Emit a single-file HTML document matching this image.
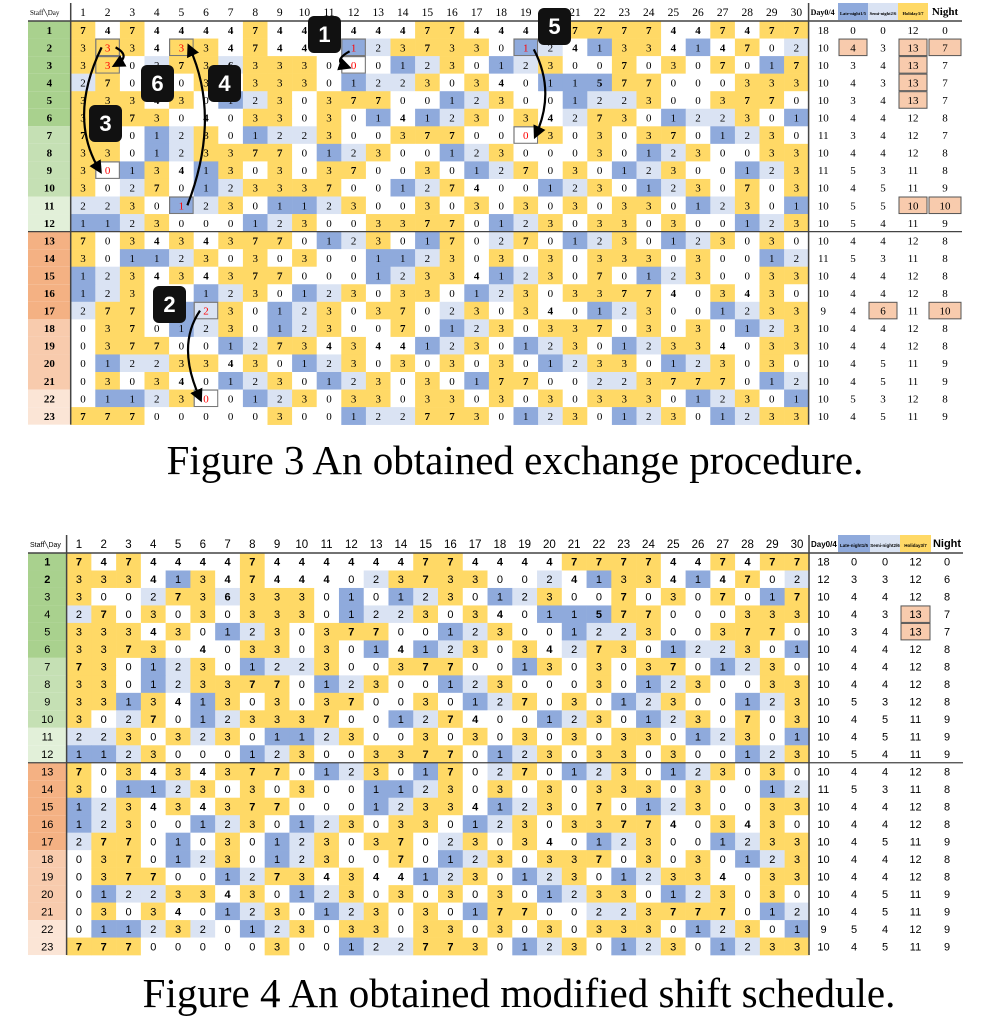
<!DOCTYPE html>
<html><head><meta charset="utf-8"><style>
html,body{margin:0;padding:0;background:#fff;width:1002px;height:1036px;overflow:hidden}
.cap{position:absolute;width:1002px;text-align:center;font-family:"Liberation Serif",serif;font-size:41px;color:#000;white-space:nowrap}
</style></head><body>
<svg id="svg" width="1002" height="1036" style="position:absolute;left:0;top:0"></svg>
<div class="cap" style="top:436px;left:14px">Figure 3 An obtained exchange procedure.</div>
<div class="cap" style="top:969px;left:18px">Figure 4 An obtained modified shift schedule.</div>
<script>
const days = Array.from({length:30},(_,i)=>i+1);
const staff = Array.from({length:23},(_,i)=>i+1);
const schedule4 = [
[7,4,7,4,4,4,4,7,4,4,4,4,4,4,7,7,4,4,4,4,7,7,7,7,4,4,7,4,7,7],
[3,3,3,4,1,3,4,7,4,4,4,0,2,3,7,3,3,0,0,2,4,1,3,3,4,1,4,7,0,2],
[3,0,0,2,7,3,6,3,3,3,0,1,0,1,2,3,0,1,2,3,0,0,7,0,3,0,7,0,1,7],
[2,7,0,3,0,3,0,3,3,3,0,1,2,2,3,0,3,4,0,1,1,5,7,7,0,0,0,3,3,3],
[3,3,3,4,3,0,1,2,3,0,3,7,7,0,0,1,2,3,0,0,1,2,2,3,0,0,3,7,7,0],
[3,3,7,3,0,4,0,3,3,0,3,0,1,4,1,2,3,0,3,4,2,7,3,0,1,2,2,3,0,1],
[7,3,0,1,2,3,0,1,2,2,3,0,0,3,7,7,0,0,1,3,0,3,0,3,7,0,1,2,3,0],
[3,3,0,1,2,3,3,7,7,0,1,2,3,0,0,1,2,3,0,0,0,3,0,1,2,3,0,0,3,3],
[3,3,1,3,4,1,3,0,3,0,3,7,0,0,3,0,1,2,7,0,3,0,1,2,3,0,0,1,2,3],
[3,0,2,7,0,1,2,3,3,3,7,0,0,1,2,7,4,0,0,1,2,3,0,1,2,3,0,7,0,3],
[2,2,3,0,3,2,3,0,1,1,2,3,0,0,3,0,3,0,3,0,3,0,3,3,0,1,2,3,0,1],
[1,1,2,3,0,0,0,1,2,3,0,0,3,3,7,7,0,1,2,3,0,3,3,0,3,0,0,1,2,3],
[7,0,3,4,3,4,3,7,7,0,1,2,3,0,1,7,0,2,7,0,1,2,3,0,1,2,3,0,3,0],
[3,0,1,1,2,3,0,3,0,3,0,0,1,1,2,3,0,3,0,3,0,3,3,3,0,3,0,0,1,2],
[1,2,3,4,3,4,3,7,7,0,0,0,1,2,3,3,4,1,2,3,0,7,0,1,2,3,0,0,3,3],
[1,2,3,0,0,1,2,3,0,1,2,3,0,3,3,0,1,2,3,0,3,3,7,7,4,0,3,4,3,0],
[2,7,7,0,1,0,3,0,1,2,3,0,3,7,0,2,3,0,3,4,0,1,2,3,0,0,1,2,3,3],
[0,3,7,0,1,2,3,0,1,2,3,0,0,7,0,1,2,3,0,3,3,7,0,3,0,3,0,1,2,3],
[0,3,7,7,0,0,1,2,7,3,4,3,4,4,1,2,3,0,1,2,3,0,1,2,3,3,4,0,3,3],
[0,1,2,2,3,3,4,3,0,1,2,3,0,3,0,3,0,3,0,1,2,3,3,0,1,2,3,0,3,0],
[0,3,0,3,4,0,1,2,3,0,1,2,3,0,3,0,1,7,7,0,0,2,2,3,7,7,7,0,1,2],
[0,1,1,2,3,2,0,1,2,3,0,3,3,0,3,3,0,3,0,3,0,3,3,3,0,1,2,3,0,1],
[7,7,7,0,0,0,0,0,3,0,0,1,2,2,7,7,3,0,1,2,3,0,1,2,3,0,1,2,3,3]];
// [staff, day, value] cells of Figure 3 that differ (exchanged, shown red)
const fig3Changes = [[2,2,3],[3,2,3],[9,2,0],[2,5,3],[11,5,1],[2,12,1],[3,12,0],[2,19,1],[7,19,0],[17,6,2],[22,6,0]];
const summaryHeaders = ["Day0/4","Late-night1/5","Semi-night2/6","Holiday3/7","Night"];
const summary3 = [[18,0,0,12,0],[10,4,3,13,7],[10,3,4,13,7],[10,4,3,13,7],[10,3,4,13,7],[10,4,4,12,8],[11,3,4,12,7],[10,4,4,12,8],[11,5,3,11,8],[10,4,5,11,9],[10,5,5,10,10],[10,5,4,11,9],[10,4,4,12,8],[11,5,3,11,8],[10,4,4,12,8],[10,4,4,12,8],[9,4,6,11,10],[10,4,4,12,8],[10,4,4,12,8],[10,4,5,11,9],[10,4,5,11,9],[10,5,3,12,8],[10,4,5,11,9]];
const summary4 = [[18,0,0,12,0],[12,3,3,12,6],[10,4,4,12,8],[10,4,3,13,7],[10,3,4,13,7],[10,4,4,12,8],[10,4,4,12,8],[10,4,4,12,8],[10,5,3,12,8],[10,4,5,11,9],[10,4,5,11,9],[10,5,4,11,9],[10,4,4,12,8],[11,5,3,11,8],[10,4,4,12,8],[10,4,4,12,8],[10,4,5,11,9],[10,4,4,12,8],[10,4,4,12,8],[10,4,5,11,9],[10,4,5,11,9],[9,5,4,12,9],[10,4,5,11,9]];
const hl3 = [[2,1],[2,3],[2,4],[3,3],[4,3],[5,3],[11,3],[11,4],[17,2],[17,4]];
const hl4 = [[4,3],[5,3]];

const NS="http://www.w3.org/2000/svg";
const svg=document.getElementById('svg');
function el(tag,attrs,parent){const e=document.createElementNS(NS,tag);for(const k in attrs)e.setAttribute(k,attrs[k]);(parent||svg).appendChild(e);return e;}
function cellColor(v){if(v===3||v===7)return"#ffd966";if(v===1||v===5)return"#8faadc";if(v===2||v===6)return"#dae3f3";return"#ffffff";}
function staffColor(r){if(r<=6)return"#a9d18e";if(r<=10)return"#c5e0b4";if(r<=12)return"#e2f0d9";if(r<=17)return"#f4b183";if(r<=21)return"#f8cbad";return"#fbe5d6";}

function drawTable(c){
  const g=el('g',{});
  
  
  const xDay=d=>c.gx+(d-1)*c.cw;
  const yRow=r=>c.hb+(r-1)*c.rh;
  const F=c.font;
  const t0=el('text',{x:c.x0+2,y:(c.ht+c.hb)/2+3,'font-size':7,'font-family':F},g);t0.textContent="Staff\u2572Day";
  
  days.forEach(d=>{const t=el('text',{x:xDay(d)+c.cw/2,y:(c.ht+c.hb)/2+4,'font-size':11.5,'font-family':F,'text-anchor':'middle'},g);t.textContent=d;
    });
  staff.forEach(r=>{
    const y=yRow(r);
    const s=el('rect',{x:c.x0,y:y,width:c.gx-c.x0,height:c.rh,fill:staffColor(r)},g);
    
    const st=el('text',{x:(c.x0+c.gx)/2,y:y+c.rh/2+4,'font-size':11,'font-family':F,'text-anchor':'middle','font-weight':(r<=2||c.serif)?'bold':'normal'},g);st.textContent=r;
    
    days.forEach(d=>{
      let v=schedule4[r-1][d-1];let red=false;
      if(c.changes){const ch=c.changes.find(a=>a[0]===r&&a[1]===d);if(ch){v=ch[2];red=true;}}
      const rc=el('rect',{x:xDay(d),y:y,width:c.cw+0.3,height:c.rh+0.3,fill:cellColor(v)},g);
      
      if(red){const b=el('rect',{x:xDay(d)+0.5,y:y+0.5,width:c.cw-1,height:c.rh-1,fill:'none',stroke:'#777','stroke-width':1.2},g);
        }
      const tx=el('text',{x:xDay(d)+c.cw/2,y:y+c.rh/2+4,'font-size':11,'font-family':F,'text-anchor':'middle',fill:red?'#ff0000':'#000','font-weight':(v>=4)?'bold':'normal'},g);tx.textContent=v;
      
    });
    c.sum[r-1].forEach((v,i)=>{
      const hl=c.hl.some(a=>a[0]===r&&a[1]===i);
      if(hl){const b=el('rect',{x:c.sx[i]+1,y:y+0.5,width:c.sx[i+1]-c.sx[i]-2,height:c.rh-1,fill:'#f8cbad',stroke:'#555','stroke-width':1},g);
        }
      const t=el('text',{x:(c.sx[i]+c.sx[i+1])/2,y:y+c.rh/2+4,'font-size':11,'font-family':F,'text-anchor':'middle'},g);t.textContent=v;
      
    });
  });
  const hcol=["#fff","#8faadc","#dae3f3","#ffd966","#fff"];
  summaryHeaders.forEach((h,i)=>{
    const r=el('rect',{x:c.sx[i],y:c.ht,width:c.sx[i+1]-c.sx[i],height:c.hb-c.ht-1,fill:hcol[i]},g);
    
    const fs=i===0?8:(i===4?11:4.5);
    const t=el('text',{x:i===0?c.sx[0]+2:(c.sx[i]+c.sx[i+1])/2,y:(c.ht+c.hb)/2+3,'font-size':fs,'font-family':F,'font-weight':'bold','text-anchor':i===0?'start':'middle'},g);t.textContent=h;
    
  });
  const yEnd=yRow(24);
  el('line',{x1:c.x0,x2:c.sx[5],y1:c.hb,y2:c.hb,stroke:'#444','stroke-width':1.5},g);
  el('line',{x1:c.x0,x2:c.sx[5],y1:yRow(13),y2:yRow(13),stroke:'#444','stroke-width':1.2},g);
  el('line',{x1:c.gx,x2:c.gx,y1:c.ht,y2:yEnd,stroke:'#444','stroke-width':1.5},g);
  el('line',{x1:c.sx[0],x2:c.sx[0],y1:c.ht,y2:yEnd,stroke:'#444','stroke-width':1.5},g);
  return {xDay,yRow};
}

const t3=drawTable({name:'figure-3-table',x0:28,gx:70.7,cw:24.6,ht:3,hb:21,rh:17.55,font:'"Liberation Serif", serif',serif:true,changes:fig3Changes,sum:summary3,hl:hl3,sx:[808.6,838,868,898,928,962]});
drawTable({name:'figure-4-table',x0:28,gx:66.6,cw:24.76,ht:535,hb:553,rh:17.48,font:'"Liberation Sans", sans-serif',serif:false,sum:summary4,hl:hl4,sx:[809,838,870,900,931,963]});

const defs=el('defs',{});
const m=el('marker',{id:'ah',markerWidth:6,markerHeight:6,refX:4,refY:3,orient:'auto'},defs);
el('path',{d:'M0,0 L6,3 L0,6 z',fill:'#000'},m);
const cx=(d)=>t3.xDay(d)+12.3, cy=(r)=>t3.yRow(r)+8.8;
function arrow(name,d){const p=el('path',{d:d,fill:'none',stroke:'#000','stroke-width':2.2,'marker-end':'url(#ah)'});
  }
arrow('arrow-1',`M${cx(12)-4},${cy(2)+4} Q${cx(12)-22},${cy(2)+14} ${cx(12)-6},${cy(3)+2}`);
arrow('arrow-2',`M${cx(6)-6},${cy(17)} Q${cx(6)-30},${cy(19)} ${cx(6)-6},${cy(22)}`);
arrow('arrow-3',`M${cx(2)-6},${cy(2)} Q${cx(2)-40},${cy(6)} ${cx(2)-8},${cy(9)}`);
arrow('arrow-4',`M${cx(5)+6},${cy(11)} Q${cx(5)+40},${cy(6)} ${cx(5)+8},${cy(2)}`);
arrow('arrow-5',`M${cx(19)+8},${cy(2)+2} Q${cx(19)+30},${cy(4.5)} ${cx(19)+10},${cy(7)}`);
arrow('arrow-6',`M${cx(2)+8},${cy(2)} Q${cx(2)+24},${cy(2.5)} ${cx(2)+8},${cy(3)}`);
const boxes=[['1',308,16],['6',141,65],['4',208,65],['3',89,105],['5',538,8],['2',153,286]];
boxes.forEach(b=>{
  const r=el('rect',{x:b[1],y:b[2],width:33,height:37,rx:6,fill:'#111'});
  
  const t=el('text',{x:b[1]+16.5,y:b[2]+26,'font-size':22,'font-family':'"Liberation Sans", sans-serif','font-weight':'bold',fill:'#fff','text-anchor':'middle'});t.textContent=b[0];
  
});
</script>
</body></html>
